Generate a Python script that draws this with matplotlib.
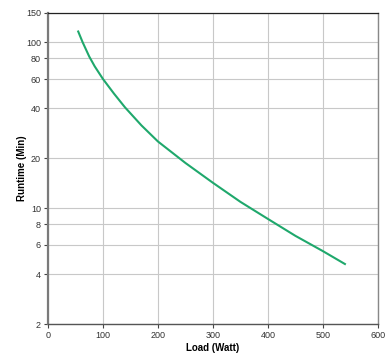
import matplotlib
matplotlib.use("Agg")
import matplotlib.pyplot as plt
from matplotlib.ticker import FixedLocator, NullLocator, FixedFormatter

plt.rcParams['font.family'] = ['Liberation Sans', 'DejaVu Sans']

# runtime curve
load = [55, 63, 75, 85, 100, 120, 140, 170, 200, 250, 300, 350, 400, 450, 500, 540]
runtime = [116, 100, 82, 71.5, 60, 49, 40.5, 31.5, 25.2, 18.7, 14.2, 10.9, 8.6, 6.8, 5.5, 4.6]

xticks = [0, 100, 200, 300, 400, 500, 600]
yticks = [2, 4, 6, 8, 10, 20, 40, 60, 80, 100, 150]

fig = plt.figure(figsize=(3.9, 3.57), dpi=100)
ax = fig.add_axes([0.123, 0.0924, 0.846, 0.8712])

ax.plot(load, runtime, color='#1fa86c', lw=1.5, zorder=3)

ax.set_yscale('log')
ax.set_xlim(0, 600)
ax.set_ylim(2, 150)
ax.xaxis.set_major_locator(FixedLocator(xticks))
ax.yaxis.set_major_locator(FixedLocator(yticks))
ax.yaxis.set_major_formatter(FixedFormatter([str(t) for t in yticks]))
ax.yaxis.set_minor_locator(NullLocator())

ax.grid(True, color='#c8c8c8', lw=0.8, zorder=0)
ax.tick_params(axis='both', labelsize=6.5, labelcolor='#333333', color='#444444',
               length=3, width=0.8, direction='out', pad=2)

ax.spines['left'].set_color('#7a7a7a')
ax.spines['left'].set_linewidth(1.6)
ax.spines['bottom'].set_color('#555555')
ax.spines['bottom'].set_linewidth(1.0)
ax.spines['top'].set_color('#222222')
ax.spines['top'].set_linewidth(0.9)
ax.spines['right'].set_color('#888888')
ax.spines['right'].set_linewidth(1.0)

ax.set_xlabel('Load (Watt)', fontsize=7, fontweight='bold', labelpad=2)
ax.set_ylabel('Runtime (Min)', fontsize=7, fontweight='bold', labelpad=-1)

fig.savefig('out.png', dpi=100)
